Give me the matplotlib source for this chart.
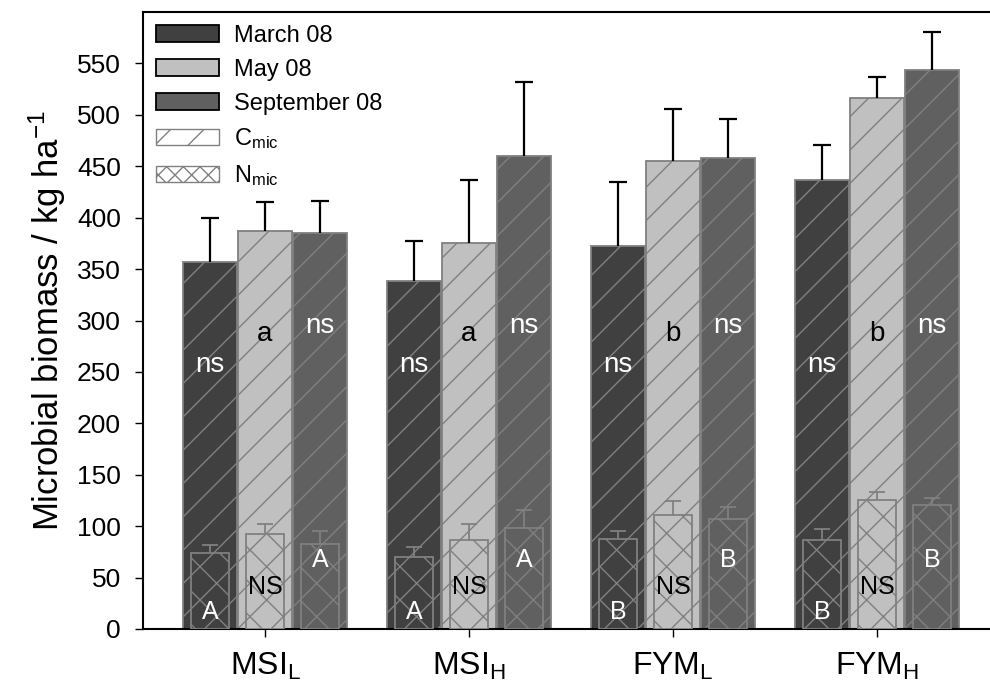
import numpy as np
import matplotlib
matplotlib.use('Agg')
import matplotlib.pyplot as plt
from matplotlib.patches import Patch

plt.rcParams['font.family'] = ['Liberation Sans', 'DejaVu Sans']
plt.rcParams['mathtext.fontset'] = 'custom'
plt.rcParams['mathtext.rm'] = 'Liberation Sans'
plt.rcParams['mathtext.it'] = 'Liberation Sans'
plt.rcParams['mathtext.default'] = 'regular'
plt.rcParams['hatch.linewidth'] = 1.0

# Данные
groups = ['MSI$_{L}$', 'MSI$_{H}$', 'FYM$_{L}$', 'FYM$_{H}$']
dates = ['March 08', 'May 08', 'September 08']

cmic = [[357, 338, 372, 437],   # March
        [387, 375, 455, 516],   # May
        [385, 460, 458, 544]]   # September
cmic_err = [[43, 39, 63, 34],
            [28, 62, 51, 21],
            [31, 72, 38, 37]]

nmic = [[74, 70, 88, 87],
        [92, 87, 111, 125],
        [83, 98, 107, 121]]
nmic_err = [[8, 10, 7, 10],
            [10, 15, 13, 8],
            [12, 18, 12, 6]]

cmic_letters = [['ns', 'ns', 'ns', 'ns'],
                ['a', 'a', 'b', 'b'],
                ['ns', 'ns', 'ns', 'ns']]
nmic_letters = [['A', 'A', 'B', 'B'],
                ['NS', 'NS', 'NS', 'NS'],
                ['A', 'A', 'B', 'B']]
cmic_label_y = [257, 287, 295]
nmic_label_y = [17, 41, 67]

colors = ['#404040', '#c0c0c0', '#606060']
text_colors = ['white', 'black', 'white']
edge = '#808080'


def upper_errorbar(ax, xs, ys, errs, color, lw, cap, z):
    # только верхняя половина планки погрешности
    cont = ax.errorbar(xs, ys, yerr=[np.zeros(len(errs)), errs], fmt='none', ecolor=color,
                       elinewidth=lw, capsize=cap, capthick=lw, zorder=z)
    for cl in cont[1]:
        if np.allclose(cl.get_ydata(), ys):
            cl.set_visible(False)


fig = plt.figure(figsize=(9.9, 6.89), dpi=100)
ax = fig.add_axes([143 / 990, 60 / 689, 847 / 990, 617 / 689])

x = np.arange(len(groups))
offsets = [-0.27, 0.0, 0.27]
w_c = 0.265
w_n = 0.19

for i in range(3):
    xi = x + offsets[i]
    ax.bar(xi, cmic[i], w_c, color=colors[i], edgecolor=edge, hatch='/', linewidth=1.3, zorder=2)
    upper_errorbar(ax, xi, cmic[i], cmic_err[i], 'black', 1.6, 6.5, 3)
    ax.bar(xi, nmic[i], w_n, color=colors[i], edgecolor=edge, hatch='x', linewidth=1.3, zorder=4)
    upper_errorbar(ax, xi, nmic[i], nmic_err[i], edge, 1.3, 5.5, 5)
    for j in range(4):
        ax.text(xi[j], cmic_label_y[i], cmic_letters[i][j], ha='center', va='center',
                fontsize=20, color=text_colors[i], zorder=6)
        ax.text(xi[j], nmic_label_y[i], nmic_letters[i][j], ha='center', va='center',
                fontsize=18, color=text_colors[i], zorder=6)

ax.set_xlim(-0.598, 3.554)
ax.set_ylim(0, 600)
ax.set_yticks(np.arange(0, 551, 50))
ax.set_xticks(x)
ax.set_xticklabels(groups, fontsize=23)
ax.tick_params(axis='y', labelsize=19, length=6, width=1, pad=10)
ax.tick_params(axis='x', length=6, width=1, pad=10)
for s in ['left', 'bottom', 'top']:
    ax.spines[s].set_linewidth(1.5)
ax.spines['right'].set_visible(False)
ax.set_ylabel('Microbial biomass / kg ha$^{-1}$', fontsize=25, labelpad=6)

handles = [Patch(facecolor=colors[0], edgecolor='black', linewidth=1.3),
           Patch(facecolor=colors[1], edgecolor='black', linewidth=1.3),
           Patch(facecolor=colors[2], edgecolor='black', linewidth=1.3),
           Patch(facecolor='white', edgecolor=edge, hatch='/'),
           Patch(facecolor='white', edgecolor=edge, hatch='xx')]
labels = dates + ['C$_{mic}$', 'N$_{mic}$']
ax.legend(handles, labels, loc='upper left', frameon=False, fontsize=17,
          handlelength=2.65, handleheight=0.7, labelspacing=0.5,
          borderaxespad=0.3, borderpad=0.25, handletextpad=0.65)

fig.savefig('out.png', dpi=100)
